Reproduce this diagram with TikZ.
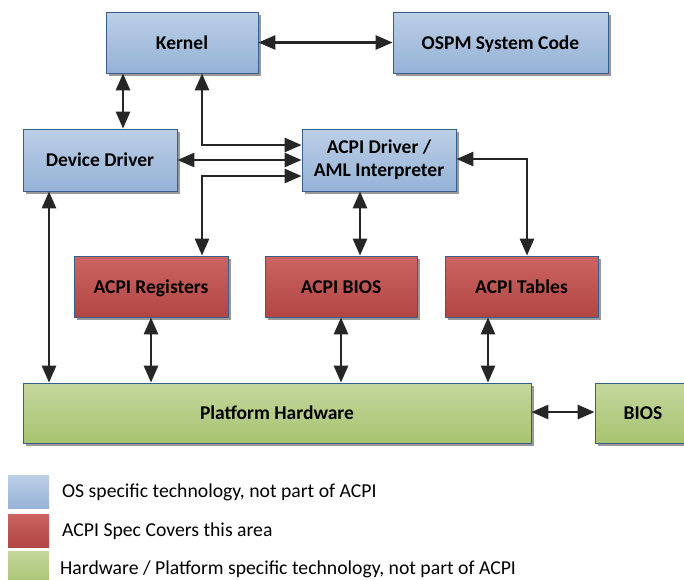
\documentclass[tikz,border=0pt]{standalone}
\usepackage{fontspec}
\setmainfont{Carlito}
\usetikzlibrary{arrows.meta,shadows}

\definecolor{blueTop}{RGB}{188,207,230}
\definecolor{blueBot}{RGB}{149,178,214}
\definecolor{redTop}{RGB}{204,100,98}
\definecolor{redBot}{RGB}{178,70,68}
\definecolor{greenTop}{RGB}{196,215,158}
\definecolor{greenBot}{RGB}{168,195,112}
\definecolor{edge}{RGB}{56,93,138}
\definecolor{ink}{RGB}{38,38,38}

\tikzset{
  box/.style={rectangle, draw=edge, line width=0.8pt, inner sep=0pt,
    font=\fontsize{19.5}{23}\selectfont\bfseries, align=center,
    drop shadow={shadow xshift=3pt, shadow yshift=-3pt, fill=black, opacity=0.4}},
  oneline/.style={text height=14pt, text depth=1pt},
  osbox/.style={box, top color=blueTop, bottom color=blueBot},
  specbox/.style={box, oneline, top color=redTop, bottom color=redBot},
  hwbox/.style={box, oneline, top color=greenTop, bottom color=greenBot},
  link/.style={draw=ink, line width=2.8pt,
    {Triangle[length=17pt,width=14pt]}-{Triangle[length=17pt,width=14pt]}},
  swatch/.style={inner sep=0pt, minimum width=41pt, minimum height=33pt},
  legendtext/.style={anchor=west, inner sep=0pt, font=\fontsize{19.7}{22}\selectfont}
}

\begin{document}
\begin{tikzpicture}[x=1pt, y=-1pt]
  \useasboundingbox (0,0) rectangle (684,579);
  \clip (0,0) rectangle (684,579);

  % OS components
  \node[osbox, oneline, minimum width=152pt, minimum height=61pt] (kernel) at (182,42.5) {Kernel};
  \node[osbox, oneline, minimum width=215pt, minimum height=61pt] (ospm) at (500.5,42.5) {OSPM System Code};
  \node[osbox, oneline, minimum width=154pt, minimum height=62pt] (dd) at (100,160) {Device Driver};
  \node[osbox, minimum width=154pt, minimum height=62pt] (acpi) at (379,160) {ACPI Driver /\\AML Interpreter};

  % ACPI specification components
  \node[specbox, minimum width=154pt, minimum height=61pt] (regs) at (151,286.5) {ACPI Registers};
  \node[specbox, minimum width=152pt, minimum height=61pt] (abios) at (341,286.5) {ACPI BIOS};
  \node[specbox, minimum width=153pt, minimum height=61pt] (tables) at (521.5,286.5) {ACPI Tables};

  % Hardware
  \node[hwbox, minimum width=508pt, minimum height=60pt] (hw) at (277,413) {Platform Hardware};
  \node[hwbox, minimum width=96pt, minimum height=60pt, text width=96pt] (bios) at (643,413) {BIOS};

  % Connectors
  \draw[link] (kernel) -- (ospm);
  \draw[link] ([xshift=-59pt]kernel.south) -- ([xshift=23pt]dd.north);
  \draw[link] ([xshift=20pt]kernel.south) |- ([yshift=15pt]acpi.west);
  \draw[link] (dd) -- (acpi);
  \draw[link] ([yshift=-16pt]acpi.west) -| ([xshift=51pt]regs.north);
  \draw[link] ([yshift=1pt]acpi.east) -| ([xshift=5.5pt]tables.north);
  \draw[link] ([xshift=-19pt]acpi.south) -- ([xshift=19pt]abios.north);
  \draw[link] ([xshift=-51pt]dd.south) -- ([xshift=-51pt]dd.south |- hw.north);
  \draw[link] (regs.south) -- (regs.south |- hw.north);
  \draw[link] (abios.south) -- (abios.south |- hw.north);
  \draw[link] ([xshift=-33.5pt]tables.south) -- ([xshift=-33.5pt]tables.south |- hw.north);
  \draw[link] (hw.east |- 0,412) -- (bios.west |- 0,412);

  % Legend
  \node[swatch, top color=blueTop, bottom color=blueBot] (sw1) at (28.5,491.5) {};
  \node[swatch, top color=redTop, bottom color=redBot] (sw2) at (28.5,530.5) {};
  \node[swatch, top color=greenTop, bottom color=greenBot] (sw3) at (28.5,567.5) {};
  \node[legendtext] (l1) at (62,492) {OS specific technology, not part of ACPI};
  \node[legendtext] (l2) at (62,531) {ACPI Spec Covers this area};
  \node[legendtext] (l3) at (60,569) {Hardware / Platform specific technology, not part of ACPI};
\end{tikzpicture}
\end{document}
